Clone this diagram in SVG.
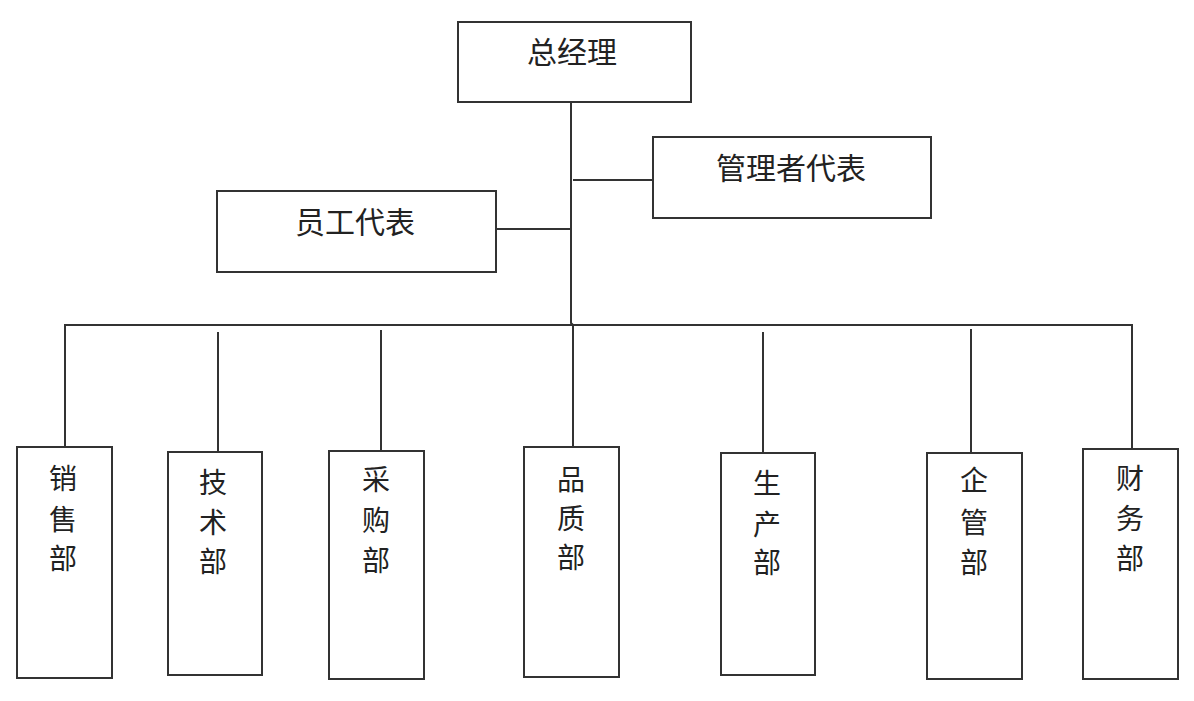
<svg xmlns="http://www.w3.org/2000/svg" width="1194" height="701" viewBox="0 0 1194 701">
<style>
.box{fill:#fff;stroke:#333;stroke-width:2}
.ln{fill:none;stroke:#333;stroke-width:2}
.t{font-family:"Noto Sans CJK SC","Noto Sans",sans-serif;font-size:30px;fill:#222;text-anchor:middle}
.c{font-family:"Noto Sans CJK SC","Noto Sans",sans-serif;font-size:28px;fill:#222;text-anchor:middle}
</style>
<rect width="1194" height="701" fill="#fff"/>
<g id="connectors">
<path class="ln" d="M571 102 V323 L573 325 V447"/>
<path class="ln" d="M496 229 H571"/>
<path class="ln" d="M573 180 H653"/>
<path class="ln" d="M65 447 V325 H1132 V449"/>
<path class="ln" d="M218 332 V452"/>
<path class="ln" d="M381 330 V451"/>
<path class="ln" d="M763 332 V453"/>
<path class="ln" d="M971 329 V453"/>
</g>
<g id="n-zjl"><rect class="box" x="458" y="22" width="233" height="80"/><text class="t" x="572" y="63">总经理</text></g>
<g id="n-glzdb"><rect class="box" x="653" y="137" width="278" height="81"/><text class="t" x="791" y="179">管理者代表</text></g>
<g id="n-ygdb"><rect class="box" x="217" y="191" width="279" height="81"/><text class="t" x="355" y="233">员工代表</text></g>
<g id="n-xsb"><rect class="box" x="17" y="447" width="95" height="231"/><text class="c" x="63" y="489">销</text><text class="c" x="63" y="530">售</text><text class="c" x="63" y="569">部</text></g>
<g id="n-jsb"><rect class="box" x="168" y="452" width="94" height="223"/><text class="c" x="213" y="493">技</text><text class="c" x="213" y="533">术</text><text class="c" x="213" y="572">部</text></g>
<g id="n-cgb"><rect class="box" x="329" y="451" width="95" height="228"/><text class="c" x="376" y="490">采</text><text class="c" x="376" y="531">购</text><text class="c" x="376" y="571">部</text></g>
<g id="n-pzb"><rect class="box" x="524" y="447" width="95" height="230"/><text class="c" x="571" y="490">品</text><text class="c" x="571" y="529">质</text><text class="c" x="571" y="568">部</text></g>
<g id="n-scb"><rect class="box" x="721" y="453" width="94" height="222"/><text class="c" x="767" y="494">生</text><text class="c" x="767" y="535">产</text><text class="c" x="767" y="573">部</text></g>
<g id="n-qgb"><rect class="box" x="927" y="453" width="95" height="226"/><text class="c" x="974" y="491">企</text><text class="c" x="974" y="533">管</text><text class="c" x="974" y="573">部</text></g>
<g id="n-cwb"><rect class="box" x="1083" y="449" width="95" height="230"/><text class="c" x="1130" y="489">财</text><text class="c" x="1130" y="529">务</text><text class="c" x="1130" y="569">部</text></g>
</svg>
